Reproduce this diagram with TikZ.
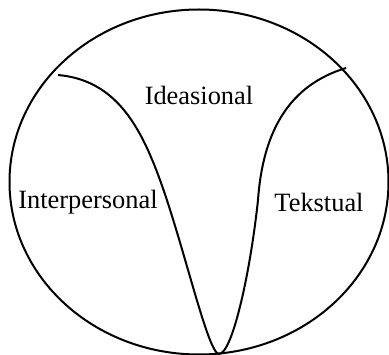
\documentclass[tikz,border=0pt]{standalone}
\usepackage{fontspec}
\setmainfont{Liberation Serif}
\begin{document}
\begin{tikzpicture}[x=1pt,y=-1pt,
  line/.style={line width=2pt,line join=round},
  lbl/.style={font=\fontsize{26.4}{30}\selectfont,inner sep=0pt}]
\useasboundingbox (0,0) rectangle (389,355);
\draw[line] (199,182) ellipse [x radius=189.5,y radius=172.5];
\coordinate (ls) at (58,75);
\coordinate (lm) at (160,180);
\coordinate (bt) at (219,354);
\coordinate (rm) at (258,200);
\coordinate (re) at (346,68);
\draw[line] (ls) .. controls (115,80) and (140,125) .. (lm)
  .. controls (184,246) and (208,354) .. (bt)
  .. controls (232,354) and (250,275) .. (rm)
  .. controls (263,130) and (290,85) .. (re);
\node[lbl] (ide) at (199,95) {Ideasional};
\node[lbl] (int) at (88,202) {Interpersonal};
\node[lbl] (tek) at (319,202) {Tekstual};
\end{tikzpicture}
\end{document}
